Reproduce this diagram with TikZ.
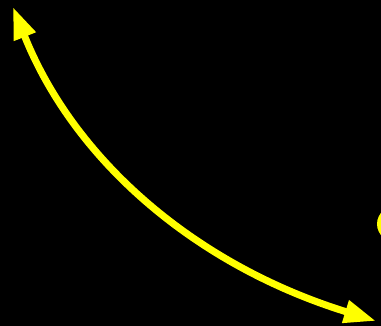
\documentclass[tikz,border=0pt]{standalone}
\usetikzlibrary{arrows.meta}
\definecolor{brightyellow}{RGB}{255,255,0}
\tikzset{
  curvearrow/.style={draw=brightyellow, line width=7pt,
    {Triangle[length=32pt,width=22pt]}-{Triangle[length=32pt,width=22pt]}},
  blob/.style={fill=brightyellow}
}
\begin{document}
\begin{tikzpicture}[x=1pt,y=-1pt]
  \fill[black] (0,0) rectangle (381,326);
  \useasboundingbox (0,0) rectangle (381,326);
  \clip (0,0) rectangle (381,326);
  \coordinate (a) at (13,7);
  \coordinate (b) at (376,321);
  \draw[curvearrow] (a) .. controls (74,160) and (195,265) .. (b);
  \fill[blob] (398,224) ellipse [x radius=21, y radius=19];
\end{tikzpicture}
\end{document}
